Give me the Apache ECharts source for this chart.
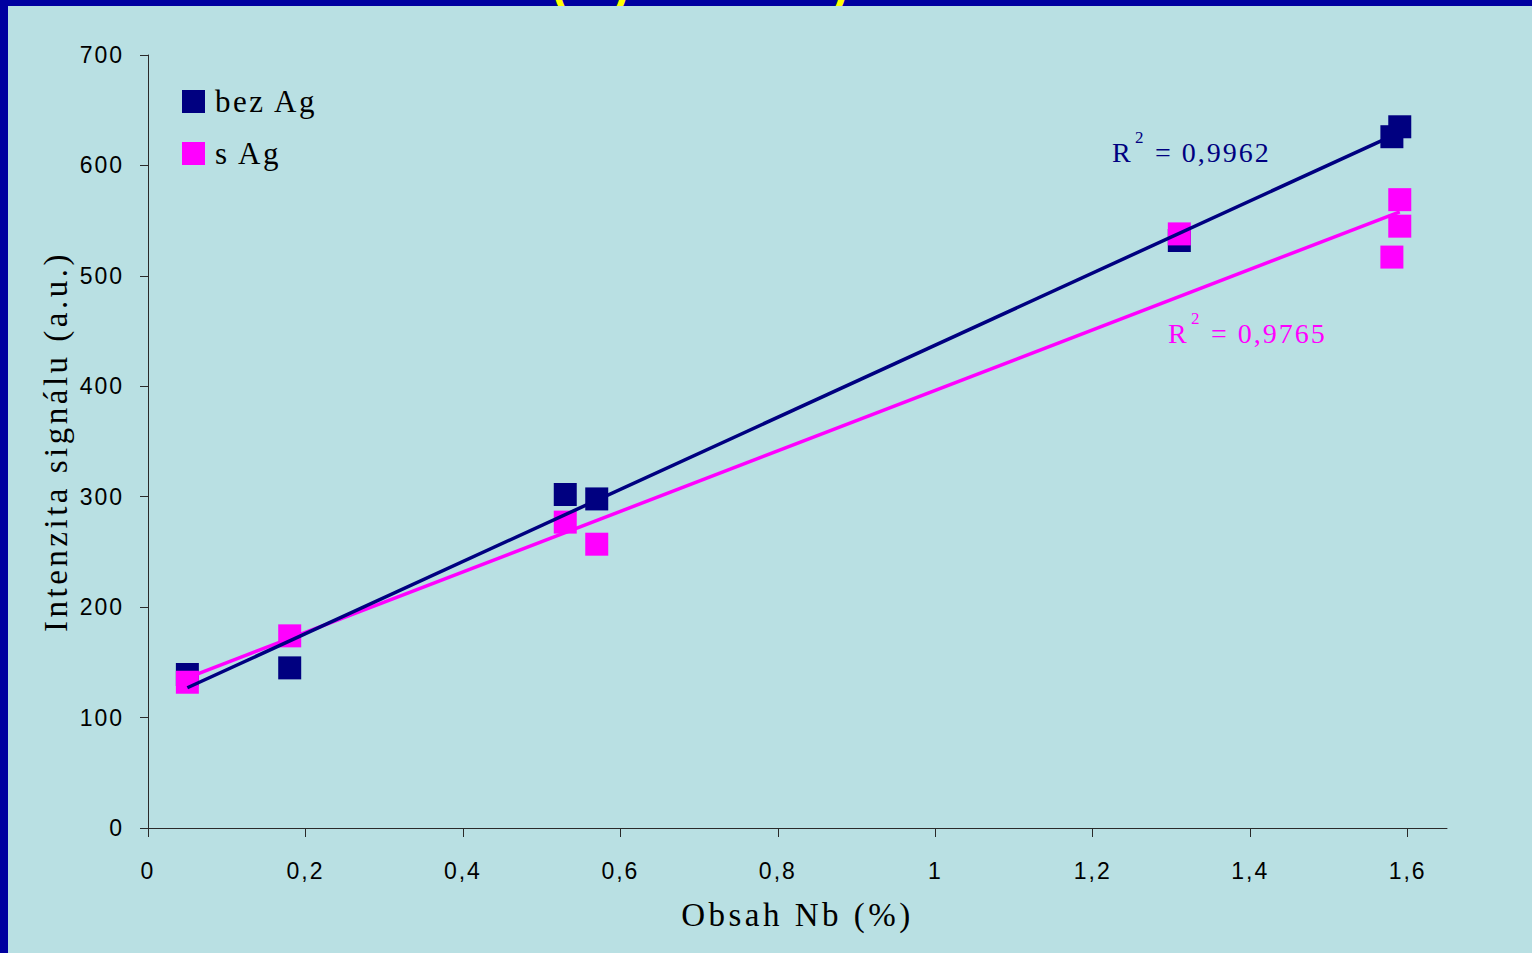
<!DOCTYPE html>
<html>
<head>
<meta charset="utf-8">
<title>Obsah Nb</title>
<script src="https://cdn.jsdelivr.net/npm/echarts@6/dist/echarts.min.js"></script>
<style>
  html, body { margin: 0; padding: 0; background: #0000a0; }
  #chart { width: 1532px; height: 953px; }
  /* the original slide renders its text with loose tracking */
  #chart svg text[style*="33px"] { letter-spacing: 3.5px; }
  #chart svg text[style*="31px"] { letter-spacing: 2.5px; }
  #chart svg text[style*="28px"] { letter-spacing: 2px; }
  #chart svg text[style*="23px"] { letter-spacing: 2px; }
</style>
</head>
<body>
<div id="chart"></div>
<script>
// measured points
const nbBez = [0.05, 0.18, 0.53, 0.57, 1.31, 1.58, 1.59];
const sigBez = [139, 145, 302, 298, 532, 626, 635];
const nbS = [0.05, 0.18, 0.53, 0.57, 1.31, 1.58, 1.59, 1.59];
const sigS = [132, 174, 277, 257, 538, 517, 569, 545];

// linear trend lines (end points)
const trendNb = [0.05, 1.59];
const trendBez = [127, 630];
const trendS = [136, 558];

const xTicks = [0, 0.2, 0.4, 0.6, 0.8, 1, 1.2, 1.4, 1.6];
const r2Bez = '= 0,9962';
const r2S = '= 0,9765';

const navy = '#000080';
const pink = '#ff00ff';
const axisColor = '#2a2a2a';

const pairs = (xs, ys) => xs.map((x, i) => [x, ys[i]]);

const chart = echarts.init(document.getElementById('chart'), null, { renderer: 'svg' });

const r2Text = (x, y, fill, txt) => ([
	{ type: 'text', x: x, y: y, z: 10, style: { text: 'R', font: '28px "Liberation Serif"', fill: fill, align: 'left', verticalAlign: 'middle' } },
	{ type: 'text', x: x + 23, y: y - 15, z: 10, style: { text: '2', font: '17px "Liberation Serif"', fill: fill, align: 'left', verticalAlign: 'middle' } },
	{ type: 'text', x: x + 43, y: y, z: 10, style: { text: txt, font: '28px "Liberation Serif"', fill: fill, align: 'left', verticalAlign: 'middle' } }
]);

const option = {
	backgroundColor: '#0000a0',
	animation: false,
	graphic: [
		// yellow slide title, only its lower edge peeks into the top band
		{ type: 'text', x: 552, y: -15, z: -2, style: { text: '(', font: 'bold 48px "Liberation Sans"', fill: '#ffff00', align: 'left', verticalAlign: 'middle' } },
		{ type: 'text', x: 613, y: -15, z: -2, style: { text: ')', font: 'bold 48px "Liberation Sans"', fill: '#ffff00', align: 'left', verticalAlign: 'middle' } },
		{ type: 'text', x: 832, y: -15, z: -2, style: { text: ')', font: 'bold 48px "Liberation Sans"', fill: '#ffff00', align: 'left', verticalAlign: 'middle' } },
		{ type: 'rect', z: -1, shape: { x: 8, y: 6, width: 1524, height: 947 }, style: { fill: '#b9e0e3' } },
		...r2Text(1112, 152, navy, r2Bez),
		...r2Text(1168, 333, pink, r2S)
	],
	grid: { left: 148, right: 85, top: 55, bottom: 125 },
	legend: {
		data: ['bez Ag', 's Ag'],
		orient: 'vertical',
		left: 182,
		top: 86,
		padding: 0,
		itemWidth: 23,
		itemHeight: 23,
		itemGap: 21,
		icon: 'rect',
		selectedMode: false,
		itemStyle: { opacity: 1 },
		textStyle: { fontFamily: 'Liberation Serif', fontSize: 31, color: '#000', padding: [0, 0, 0, 5] }
	},
	xAxis: {
		type: 'value',
		min: 0,
		max: 1.65,
		interval: 0.2,
		name: 'Obsah Nb (%)',
		nameLocation: 'middle',
		nameGap: 70,
		nameTextStyle: { fontFamily: 'Liberation Serif', fontSize: 33, color: '#000' },
		axisLine: { show: true, onZero: false, lineStyle: { color: axisColor, width: 1 } },
		axisTick: { show: true, length: 9, customValues: xTicks, lineStyle: { color: axisColor } },
		axisLabel: {
			customValues: xTicks,
			margin: 31,
			fontFamily: 'Liberation Sans',
			fontSize: 23,
			color: '#000',
			formatter: v => String(v).replace('.', ',')
		},
		splitLine: { show: false }
	},
	yAxis: {
		type: 'value',
		min: 0,
		max: 700,
		interval: 100,
		name: 'Intenzita signálu (a.u.)',
		nameLocation: 'middle',
		nameGap: 76,
		nameTextStyle: { fontFamily: 'Liberation Serif', fontSize: 33, color: '#000' },
		axisLine: { show: true, onZero: false, lineStyle: { color: axisColor, width: 1 } },
		axisTick: { show: true, length: 8, lineStyle: { color: axisColor } },
		axisLabel: { margin: 24, fontFamily: 'Liberation Sans', fontSize: 23, color: '#000' },
		splitLine: { show: false }
	},
	series: [
		{
			name: 'bez Ag',
			type: 'scatter',
			symbol: 'rect',
			symbolSize: 23,
			itemStyle: { color: navy, opacity: 1 },
			emphasis: { disabled: true },
			data: pairs(nbBez, sigBez)
		},
		{
			name: 's Ag',
			type: 'scatter',
			symbol: 'rect',
			symbolSize: 23,
			itemStyle: { color: pink, opacity: 1 },
			emphasis: { disabled: true },
			data: pairs(nbS, sigS)
		},
		{
			name: 's Ag trend',
			type: 'line',
			showSymbol: false,
			silent: true,
			lineStyle: { color: pink, width: 3.5 },
			data: pairs(trendNb, trendS)
		},
		{
			name: 'bez Ag trend',
			type: 'line',
			showSymbol: false,
			silent: true,
			lineStyle: { color: navy, width: 3.5 },
			data: pairs(trendNb, trendBez)
		}
	]
};

chart.setOption(option);
</script>
</body>
</html>
